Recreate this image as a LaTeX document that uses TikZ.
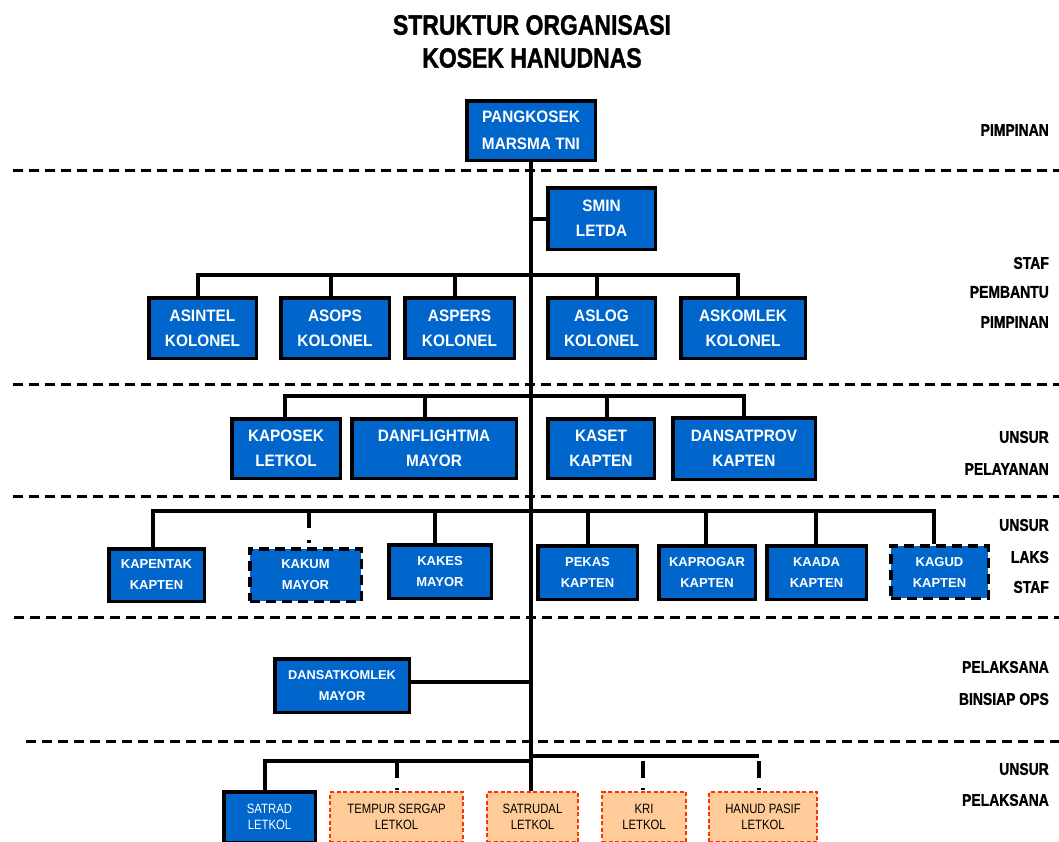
\documentclass[tikz,border=0pt]{standalone}
\usepackage{fontspec}
\setmainfont{Liberation Sans}
\newfontfamily\bxfam[FakeStretch=0.93]{Liberation Sans}
\newfontfamily\nrfam[FakeStretch=0.84]{Liberation Sans}
\newfontfamily\hvfam[FakeStretch=0.82,FakeBold=1.2]{Liberation Sans}
\newcommand\mkfA{\bxfam\bfseries\fontsize{16.5}{25}\selectfont}
\newcommand\mkfP{\bxfam\bfseries\fontsize{16.5}{26.5}\selectfont}
\newcommand\mkfB{\bfseries\fontsize{13}{21}\selectfont}
\newcommand\mkfD{\bfseries\fontsize{12.8}{20.5}\selectfont}
\newcommand\mkfC{\nrfam\fontsize{13.5}{16.5}\selectfont}
\newcommand\mkfT{\hvfam\bfseries\fontsize{28}{33}\selectfont}
\newcommand\mkfL{\hvfam\bfseries\fontsize{17}{20}\selectfont}
\definecolor{myblue}{HTML}{0066CC}
\definecolor{myorange}{HTML}{FFCC99}
\definecolor{myred}{HTML}{FF3300}
\begin{document}
\begin{tikzpicture}[x=1pt,y=-1pt,
  box/.style={draw=black, line width=3.5pt, fill=myblue, text=white, align=center, inner sep=0pt, font=\mkfA},
  dbox/.style={box, dash pattern=on 10pt off 6pt},
  obox/.style={draw=myred, line width=1.2pt, dash pattern=on 4pt off 2.5pt, fill=myorange, text=black, align=center, inner sep=0pt, font=\mkfC},
  conn/.style={line width=4pt},
  sep/.style={line width=3pt, dash pattern=on 10pt off 6pt},
  lab/.style={anchor=east, font=\mkfL, inner sep=0pt},
]
\clip (0,0) rectangle (1059,841);
\fill[white] (0,0) rectangle (1059,841);

% title
\node[font=\mkfT, align=center, inner sep=0pt] (title) at (532,41.5) {STRUKTUR ORGANISASI\\KOSEK HANUDNAS};

% separators
\coordinate (s1a) at (13,170);  \coordinate (s1b) at (1059,170);
\coordinate (s2a) at (13,384);  \coordinate (s2b) at (1059,384);
\coordinate (s3a) at (13,496);  \coordinate (s3b) at (1059,496);
\coordinate (s4a) at (14,617);  \coordinate (s4b) at (1059,617);
\coordinate (s5a) at (26,741);  \coordinate (s5b) at (1059,741);
\draw[sep] (s1a) -- (s1b);
\draw[sep] (s2a) -- (s2b);
\draw[sep] (s3a) -- (s3b);
\draw[sep] (s4a) -- (s4b);
\draw[sep] (s5a) -- (s5b);

% right labels
\node[lab] (l1) at (1049,130) {PIMPINAN};
\node[lab] (l2) at (1049,263) {STAF};
\node[lab] (l3) at (1049,292) {PEMBANTU};
\node[lab] (l4) at (1049,322) {PIMPINAN};
\node[lab] (l5) at (1049,437) {UNSUR};
\node[lab] (l6) at (1049,469) {PELAYANAN};
\node[lab] (l7) at (1049,525) {UNSUR};
\node[lab] (l8) at (1049,557) {LAKS};
\node[lab] (l9) at (1049,587) {STAF};
\node[lab] (l10) at (1049,667) {PELAKSANA};
\node[lab] (l11) at (1049,699) {BINSIAP OPS};
\node[lab] (l12) at (1049,769) {UNSUR};
\node[lab] (l13) at (1049,800) {PELAKSANA};

% boxes row 1
\node[box, font=\mkfP, minimum width=128.5pt, minimum height=59.5pt] (pang) at (531,130.5) {PANGKOSEK\\MARSMA TNI};
\node[box, minimum width=107.5pt, minimum height=61.5pt] (smin) at (601.5,218.5) {SMIN\\LETDA};

% row 2
\node[box, minimum width=107.5pt, minimum height=60.5pt] (asintel) at (202.5,328) {ASINTEL\\KOLONEL};
\node[box, minimum width=108.5pt, minimum height=60.5pt] (asops) at (335,328) {ASOPS\\KOLONEL};
\node[box, minimum width=109.5pt, minimum height=60.5pt] (aspers) at (459.5,328) {ASPERS\\KOLONEL};
\node[box, minimum width=107.5pt, minimum height=60.5pt] (aslog) at (601.5,328) {ASLOG\\KOLONEL};
\node[box, minimum width=124.5pt, minimum height=60.5pt] (askomlek) at (743,328) {ASKOMLEK\\KOLONEL};

% row 3
\node[box, minimum width=108.5pt, minimum height=59.5pt] (kaposek) at (286,448.5) {KAPOSEK\\LETKOL};
\node[box, minimum width=164.5pt, minimum height=59.5pt] (danflight) at (434,448.5) {DANFLIGHTMA\\MAYOR};
\node[box, minimum width=106.5pt, minimum height=59.5pt] (kaset) at (601,448.5) {KASET\\KAPTEN};
\node[box, minimum width=142.5pt, minimum height=61.5pt] (dansatprov) at (744,448.5) {DANSATPROV\\KAPTEN};

% row 4
\node[box, font=\mkfB, minimum width=95.5pt, minimum height=52.5pt] (kapentak) at (156.5,575) {KAPENTAK\\KAPTEN};
\node[dbox, font=\mkfB, minimum width=111.5pt, minimum height=52.5pt] (kakum) at (305.5,575) {KAKUM\\MAYOR};
\node[box, font=\mkfB, minimum width=102.5pt, minimum height=53.5pt] (kakes) at (440,571.5) {KAKES\\MAYOR};
\node[box, font=\mkfB, minimum width=99.5pt, minimum height=53.5pt] (pekas) at (587.5,572.5) {PEKAS\\KAPTEN};
\node[box, font=\mkfB, minimum width=96.5pt, minimum height=53.5pt] (kaprogar) at (707,572.5) {KAPROGAR\\KAPTEN};
\node[box, font=\mkfB, minimum width=99.5pt, minimum height=53.5pt] (kaada) at (816.5,572.5) {KAADA\\KAPTEN};
\node[dbox, font=\mkfB, minimum width=97.5pt, minimum height=52.5pt] (kagud) at (939.5,572) {KAGUD\\KAPTEN};

% row 5
\node[box, font=\mkfD, minimum width=134.5pt, minimum height=53.5pt] (dsk) at (342,685.5) {DANSATKOMLEK\\MAYOR};

% row 6
\node[box, font=\mkfC, minimum width=91.5pt, minimum height=50.5pt] (satrad) at (269.5,817) {SATRAD\\LETKOL};
\node[obox, minimum width=133pt, minimum height=50pt] (tempur) at (396.5,817) {TEMPUR SERGAP\\LETKOL};
\node[obox, minimum width=91pt, minimum height=50pt] (satrudal) at (532.5,817) {SATRUDAL\\LETKOL};
\node[obox, minimum width=84pt, minimum height=50pt] (kri) at (644,817) {KRI\\LETKOL};
\node[obox, minimum width=108pt, minimum height=50pt] (hanud) at (763,817) {HANUD PASIF\\LETKOL};

% trunk
\draw[conn] (pang.south) -- (pang.south |- satrudal.north);
\draw[conn] (pang.south |- smin.west) -- (smin.west);

% row 2 bus
\coordinate (b2a) at (198,275);
\coordinate (b2b) at (331,275);
\coordinate (b2c) at (455,275);
\coordinate (b2d) at (597,275);
\coordinate (b2e) at (738,275);
\draw[conn] (b2a |- asintel.north) -- (b2a) -- (b2e) -- (b2e |- askomlek.north);
\draw[conn] (b2b) -- (b2b |- asops.north);
\draw[conn] (b2c) -- (b2c |- aspers.north);
\draw[conn] (b2d) -- (b2d |- aslog.north);

% row 3 bus
\coordinate (b3a) at (285,396);
\coordinate (b3b) at (425,396);
\coordinate (b3c) at (607,396);
\coordinate (b3d) at (744,396);
\draw[conn] (b3a |- kaposek.north) -- (b3a) -- (b3d) -- (b3d |- dansatprov.north);
\draw[conn] (b3b) -- (b3b |- danflight.north);
\draw[conn] (b3c) -- (b3c |- kaset.north);

% row 4 bus
\coordinate (b4a) at (153,511);
\coordinate (b4b) at (309,511);
\coordinate (b4c) at (435,511);
\coordinate (b4d) at (588,511);
\coordinate (b4e) at (706,511);
\coordinate (b4f) at (816,511);
\coordinate (b4g) at (934,511);
\draw[conn] (b4a |- kapentak.north) -- (b4a) -- (b4g) -- (b4g |- kagud.north);
\draw[conn, dash pattern=on 17pt off 12pt on 3pt off 20pt] (b4b) -- (b4b |- kakum.north);
\draw[conn] (b4c) -- (b4c |- kakes.north);
\draw[conn] (b4d) -- (b4d |- pekas.north);
\draw[conn] (b4e) -- (b4e |- kaprogar.north);
\draw[conn] (b4f) -- (b4f |- kaada.north);

% row 5
\coordinate (t5) at (531,682);
\draw[conn] (dsk.east |- t5) -- (t5);

% row 6 bus
\coordinate (b6a) at (265,761);
\coordinate (b6b) at (397,761);
\coordinate (b6c) at (529,761);
\coordinate (b6d) at (531,756);
\coordinate (b6e) at (643,756);
\coordinate (b6f) at (759,756);
\draw[conn] (b6a |- satrad.north) -- (b6a) -- (b6c);
\draw[conn] (b6d) -- (b6f);
\draw[conn, dash pattern=on 17pt off 10pt on 2pt off 10pt] (b6b) -- (b6b |- tempur.north);
\draw[conn, dash pattern=on 0pt off 5pt on 17pt off 10pt on 2pt off 10pt] (b6e) -- (b6e |- kri.north);
\draw[conn, dash pattern=on 0pt off 5pt on 17pt off 10pt on 2pt off 10pt] (b6f) -- (b6f |- hanud.north);
\end{tikzpicture}
\end{document}
